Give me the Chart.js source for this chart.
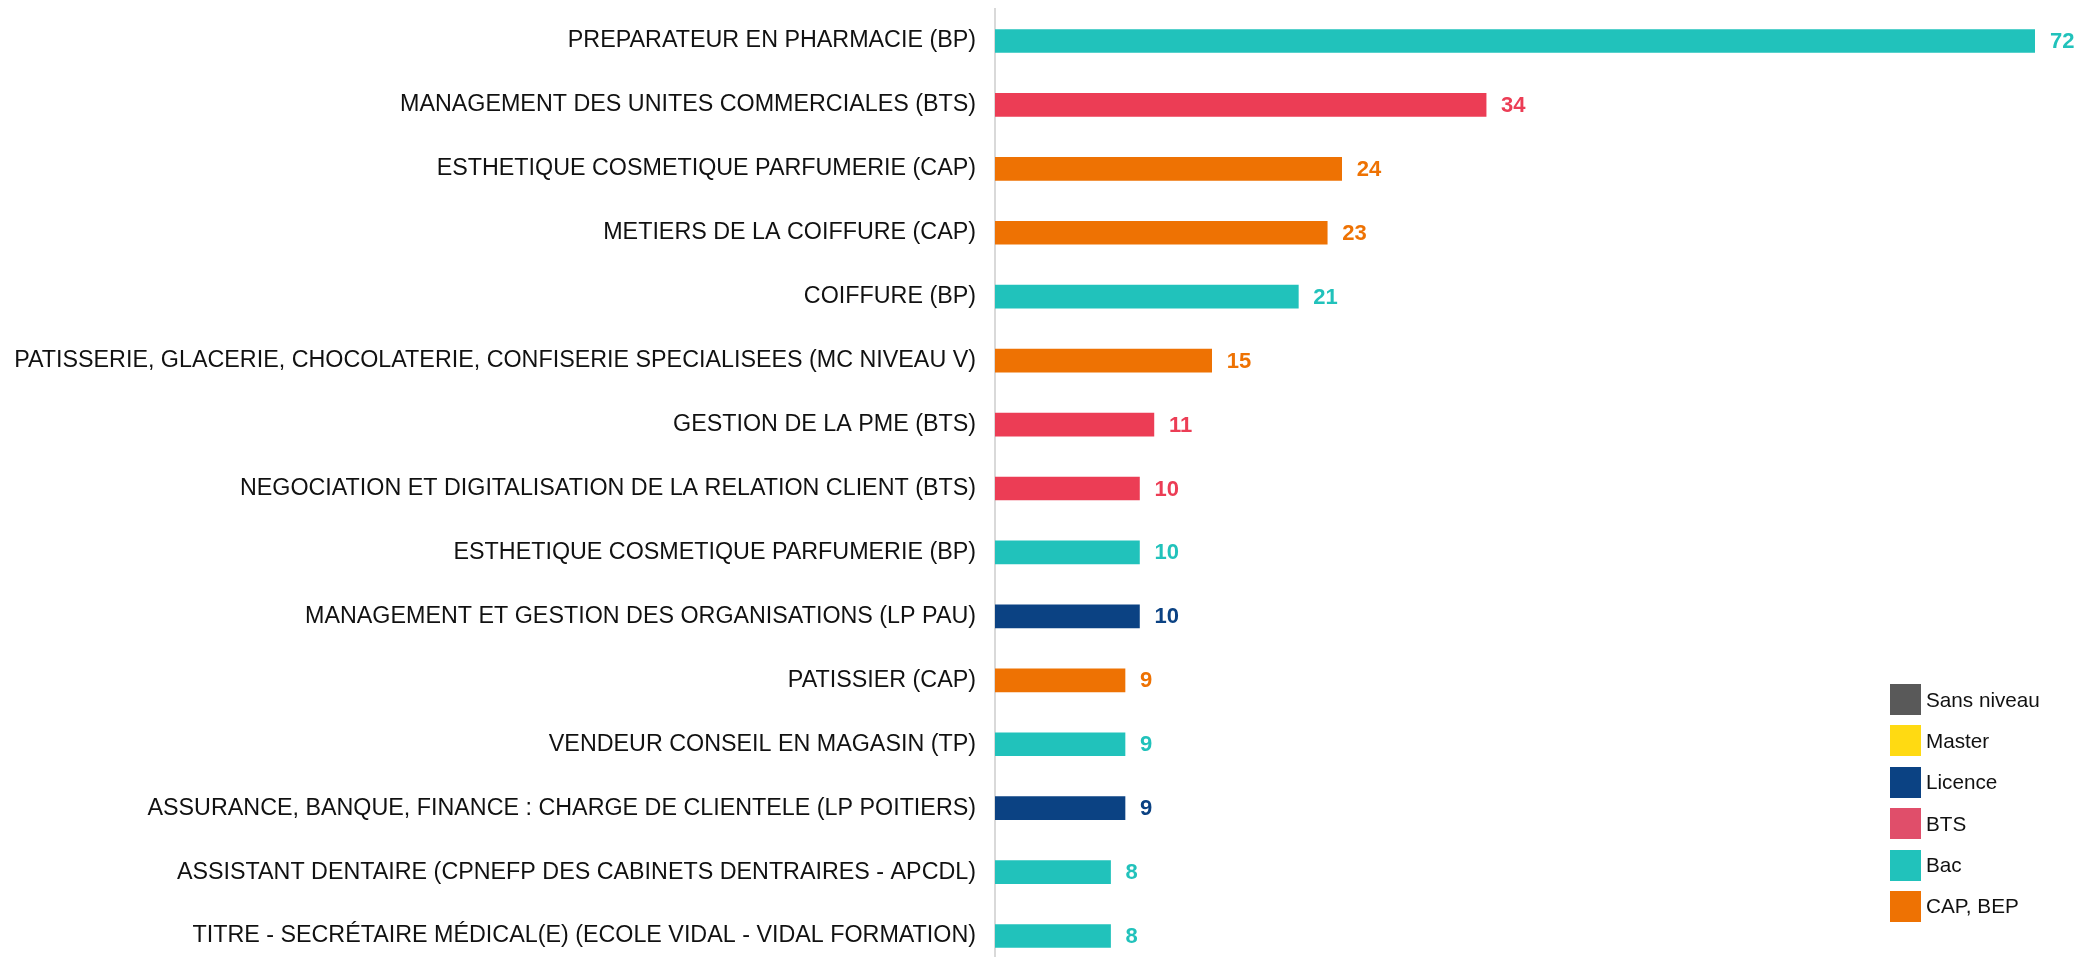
<!DOCTYPE html>
<html>
<head>
<meta charset="utf-8">
<script src="https://cdn.jsdelivr.net/npm/chart.js@4.4.1/dist/chart.umd.min.js"></script>
<style>
  html, body { margin: 0; padding: 0; background: #fff; }
  #wrap { position: relative; width: 2080px; height: 957px; overflow: hidden; }
  #legend { position: absolute; left: 1890px; top: 684px; font-family: "Liberation Sans", Arial, sans-serif; font-size: 20.7px; color: #111; }
  #legend .item { display: flex; align-items: center; height: 31px; margin-bottom: 10.4px; }
  #legend .box { width: 31px; height: 31px; margin-right: 5px; }
</style>
</head>
<body>
<div id="wrap">
  <!-- canvas plus haut que la vue : la dernière catégorie est coupée comme dans l'original -->
  <canvas id="chart" width="2080" height="980"></canvas>
  <div id="legend"></div>
</div>
<script>
// formations (de haut en bas), effectifs et niveau de chaque formation
const formations = [
  'PREPARATEUR EN PHARMACIE (BP)',
  'MANAGEMENT DES UNITES COMMERCIALES (BTS)',
  'ESTHETIQUE COSMETIQUE PARFUMERIE (CAP)',
  'METIERS DE LA COIFFURE (CAP)',
  'COIFFURE (BP)',
  'PATISSERIE, GLACERIE, CHOCOLATERIE, CONFISERIE SPECIALISEES (MC NIVEAU V)',
  'GESTION DE LA PME (BTS)',
  'NEGOCIATION ET DIGITALISATION DE LA RELATION CLIENT (BTS)',
  'ESTHETIQUE COSMETIQUE PARFUMERIE (BP)',
  'MANAGEMENT ET GESTION DES ORGANISATIONS (LP PAU)',
  'PATISSIER (CAP)',
  'VENDEUR CONSEIL EN MAGASIN (TP)',
  'ASSURANCE, BANQUE, FINANCE : CHARGE DE CLIENTELE (LP POITIERS)',
  'ASSISTANT DENTAIRE (CPNEFP DES CABINETS DENTRAIRES - APCDL)',
  'TITRE - SECRÉTAIRE MÉDICAL(E) (ECOLE VIDAL - VIDAL FORMATION)'
];
const effectifs = [72, 34, 24, 23, 21, 15, 11, 10, 10, 10, 9, 9, 9, 8, 8];
const niveaux = ['Bac', 'BTS', 'CAP, BEP', 'CAP, BEP', 'Bac', 'CAP, BEP', 'BTS', 'BTS', 'Bac', 'Licence', 'CAP, BEP', 'Bac', 'Licence', 'Bac', 'Bac'];

// légende : ordre et couleurs des niveaux
const niveauNoms = ['Sans niveau', 'Master', 'Licence', 'BTS', 'Bac', 'CAP, BEP'];
const niveauCouleurs = ['#595959', '#FFDA12', '#0B4283', '#E04E6A', '#21C2BB', '#EE7203'];
// les barres BTS sont un peu plus vives que la case de légende
const barCouleurs = { 'BTS': '#EC3D55' };

const couleurBarre = n => barCouleurs[n] || niveauCouleurs[niveauNoms.indexOf(n)];

// étiquettes de valeur au bout des barres
const valeurs = {
  id: 'valeurs',
  afterDatasetsDraw(chart) {
    const ctx = chart.ctx;
    const meta = chart.getDatasetMeta(0);
    ctx.save();
    ctx.font = 'bold 22px "Liberation Sans", Arial, sans-serif';
    ctx.textBaseline = 'middle';
    ctx.textAlign = 'left';
    meta.data.forEach((bar, i) => {
      ctx.fillStyle = couleurBarre(niveaux[i]);
      ctx.fillText(String(effectifs[i]), bar.x + 15, bar.y + 1);
    });
    ctx.restore();
  }
};

new Chart(document.getElementById('chart'), {
  type: 'bar',
  data: {
    labels: formations,
    datasets: [{
      data: effectifs,
      backgroundColor: niveaux.map(couleurBarre),
      borderWidth: 0,
      barThickness: 23
    }]
  },
  options: {
    indexAxis: 'y',
    responsive: false,
    animation: false,
    layout: { padding: { top: 9, right: 45, bottom: 12, left: 0 } },
    plugins: { legend: { display: false }, tooltip: { enabled: false } },
    scales: {
      x: { display: false, min: 0, max: 72 },
      y: {
        afterFit: s => { s.width = 995; },
        // l'écart libellé / axe passe par tickLength (ticks.padding gonflerait les marges verticales)
        grid: { display: false, drawTicks: true, tickLength: 19 },
        border: { display: true, color: '#d9d9d9', width: 2 },
        ticks: {
          padding: 0,
          color: '#111',
          font: { family: '"Liberation Sans", Arial, sans-serif', size: 23.3, lineHeight: 0.7 }
        }
      }
    }
  },
  plugins: [valeurs]
});

document.getElementById('legend').innerHTML = niveauNoms.map((n, i) =>
  `<div class="item"><span class="box" style="background:${niveauCouleurs[i]}"></span>${n}</div>`).join('');
</script>
</body>
</html>
